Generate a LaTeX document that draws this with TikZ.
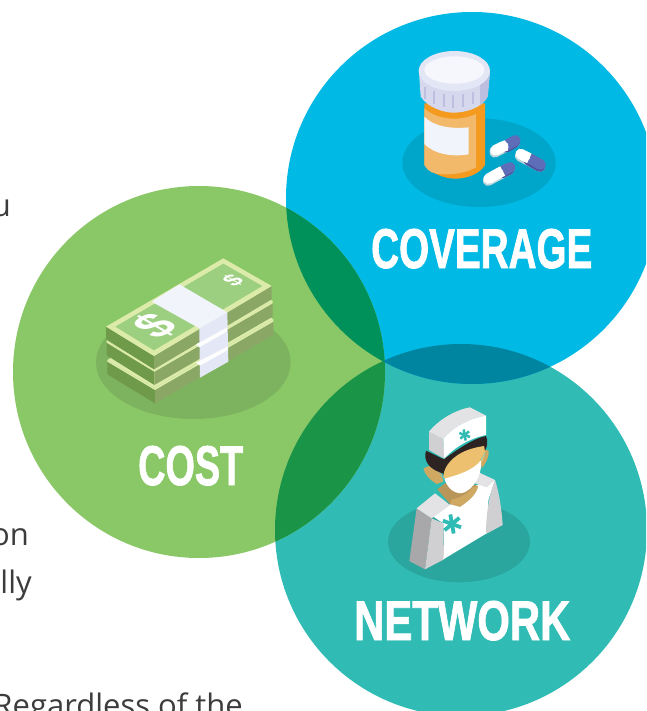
\documentclass[tikz,border=0pt]{standalone}
\usepackage{graphicx}
\usepackage{fontspec}
\setmainfont{Liberation Sans}
\newfontfamily\bodyfont{Open Sans}
\newfontfamily\heavyfont[BoldFeatures={FakeBold=1.6}]{Liberation Sans}
\usetikzlibrary{calc}
\definecolor{cblue}{HTML}{00B9E4}
\definecolor{cgreen}{HTML}{8AC867}
\definecolor{cteal}{HTML}{30BCB4}
\definecolor{gb}{HTML}{00915A}
\definecolor{bt}{HTML}{0085A0}
\definecolor{gt}{HTML}{1A9447}
\definecolor{bodytxt}{HTML}{3C3C3C}
\definecolor{bshadow}{HTML}{00A6CA}
\definecolor{orange1}{HTML}{F39A1F}
\definecolor{orange2}{HTML}{F3B96A}
\definecolor{paper}{HTML}{F2F4FB}
\definecolor{capside}{HTML}{D6D9EE}
\definecolor{capdark}{HTML}{BDBFE0}
\definecolor{captop}{HTML}{E3E6F5}
\definecolor{capin}{HTML}{F6F7FC}
\definecolor{pillblue}{HTML}{5D6DB8}
\definecolor{pilldark}{HTML}{4A55A0}
\definecolor{pillshade}{HTML}{BFD6DA}
\definecolor{gshadow}{HTML}{7DB35F}
\definecolor{billedge}{HTML}{DCEBAA}
\definecolor{billin}{HTML}{9CCF80}
\definecolor{billleft}{HTML}{6F9A49}
\definecolor{billright}{HTML}{8AA766}
\definecolor{bandside}{HTML}{E4E7F5}
\definecolor{tshadow}{HTML}{2AA69F}
\definecolor{nmid}{HTML}{D0D0D2}
\definecolor{ndark}{HTML}{A8A8AA}
\definecolor{nlight}{HTML}{E3E3E5}
\definecolor{nhair}{HTML}{2D2322}
\definecolor{nface}{HTML}{EDC06F}
\definecolor{nneck}{HTML}{B8965A}
\definecolor{nneckb}{HTML}{CFA862}
\tikzset{
  bigword/.style={text=white,font=\heavyfont\fontsize{56}{56}\selectfont\bfseries,inner sep=0pt,anchor=base west},
  bodyline/.style={text=bodytxt,font=\bodyfont\fontsize{31}{31}\selectfont,inner sep=0pt,anchor=base east},
  zoomed/.style={x=0.33333pt,y=-0.33333pt},
  moneysign/.style={text=white,font=\bfseries,inner sep=0pt,transform shape},
  asterline/.style={draw=cteal,line width=#1,line cap=butt}
}
\newcommand{\pillshape}[4]{%
  \draw[line width=10.6pt,line cap=round,pillshade] ($(#1)+(-2,6)$) -- ($(#2)+(-2,6)$);
  \draw[line width=10.6pt,line cap=round,pilldark] ($(#3)+(-2,6)$) -- ($(#2)+(-2,6)$);
  \draw[line width=10.6pt,line cap=round,pillblue] (#3) -- (#2);
  \draw[line width=10.6pt,line cap=round,white] (#1) -- (#4);
  \draw[line width=10.6pt,white] (#4) -- (#3);
}
\newcommand{\billfaces}[6]{%
  \fill[billleft] (#1,#2) -- (#3,#4) -- ++(0,40) -- (#1,#2+38) -- cycle;
  \fill[billright] (#3,#4) -- (#5,#6) -- ++(0,40) -- (#3,#4+40) -- cycle;
}
\newcommand{\asterisk}[4]{%
  \foreach \ang in {20,80,140}{
    \draw[asterline=#4] ($(#1,#2)+({\ang}:#3)$) -- ($(#1,#2)+({\ang+180}:#3)$);
  }
}
\begin{document}
\begin{tikzpicture}[x=1pt,y=-1pt]
\useasboundingbox (0,0) rectangle (646,711);
\clip (0,0) rectangle (646,711);
\fill[white] (0,0) rectangle (646,711);
% body text fragments
\node[bodyline] (t1) at (11,217) {u};
\node[bodyline] (t2) at (29,545) {on};
\node[bodyline] (t3) at (32,593) {lly};
\node[bodyline] (t4) at (243,716) {Regardless of the};
% circles
\fill[cteal] (461,530) circle (186);
\fill[cblue] (472,198) circle (186);
\fill[cgreen] (199,372) circle (186);
\begin{scope}\clip (199,372) circle (186); \fill[gb] (472,198) circle (186); \end{scope}
\begin{scope}\clip (199,372) circle (186); \fill[gt] (461,530) circle (186); \end{scope}
\begin{scope}\clip (472,198) circle (186); \fill[bt] (461,530) circle (186); \end{scope}
% bottle
\begin{scope}[shift={(390,40)},zoomed]
\fill[bshadow] (267,368) ellipse [x radius=230,y radius=133];
\fill[orange1] (103,190) -- (103,375) .. controls (130,405) and (170,416) .. (195,416) .. controls (235,416) and (270,400) .. (285,375) -- (285,190) -- cycle;
\fill[orange2] (103,205) .. controls (140,240) and (210,245) .. (258,222) -- (258,382) .. controls (225,402) and (160,410) .. (125,397) .. controls (115,392) and (108,385) .. (103,375) -- cycle;
\fill[paper] (103,230) .. controls (130,258) and (180,268) .. (236,262) -- (236,343) .. controls (180,352) and (130,340) .. (103,312) -- cycle;
\fill[capside] (87,95) -- (92,170) .. controls (115,205) and (165,218) .. (190,218) .. controls (225,218) and (275,205) .. (293,170) -- (300,95) -- cycle;
\begin{scope}
\clip (270,100) rectangle (305,220);
\fill[capdark] (87,95) -- (92,170) .. controls (115,205) and (165,218) .. (190,218) .. controls (225,218) and (275,205) .. (293,170) -- (300,95) -- cycle;
\end{scope}
\fill[captop] (193,93) ellipse [x radius=107,y radius=60];
\fill[capin] (193,90) ellipse [x radius=90,y radius=41];
\foreach \xx/\yy in {105/140,133/153,161/162,190/166,219/162,248/155}{
  \draw[capdark,line width=1.7pt] (\xx,\yy) -- (\xx,\yy+38);
}
\pillshape{316,331}{376,301}{350,316}{340,319}
\pillshape{296,416}{360,382}{338,393}{325,400}
\pillshape{392,342}{452,374}{418,355}{405,349}
\end{scope}
% money
\begin{scope}[shift={(90,250)},zoomed]
\fill[gshadow] (310,337) ellipse [x radius=292,y radius=170];
\billfaces{52}{335}{195}{420}{550}{215}
\fill[billedge] (52,330) -- (405,125) -- (550,208) -- (195,414) -- cycle;
\fill[billedge] (52,335) -- (195,420) -- (550,215) -- (550,208) -- (195,414) -- (52,330) -- cycle;
\billfaces{50}{278}{193}{365}{548}{160}
\fill[billedge] (50,272) -- (403,68) -- (548,153) -- (193,358) -- (50,272) -- cycle;
\fill[billedge] (50,278) -- (193,365) -- (548,160) -- (548,153) -- (193,358) -- (50,272) -- cycle;
\billfaces{48}{230}{192}{318}{545}{108}
\fill[billedge] (48,230) -- (400,25) -- (545,108) -- (192,318) -- cycle;
\fill[billin] (76,230) -- (400,41) -- (517,108) -- (192,301) -- cycle;
% band
\fill[bandside] (328,235) -- (412,187) -- (415,335) -- (330,383) -- cycle;
\fill[white!92!bandside] (318,283) -- (410,233) -- (412,244) -- (328,292) -- cycle;
\fill[white!92!bandside] (318,338) -- (412,290) -- (414,300) -- (330,347) -- cycle;
\fill[paper] (185,155) -- (268,103) -- (412,187) -- (328,235) -- cycle;
\node[moneysign,cm={0.9,0.52,-0.9,0.52,(195,229)}] (d1) at (0,0) {\fontsize{46}{46}\selectfont\$};
\node[moneysign,cm={0.9,0.52,-0.9,0.52,(429,90)}] (d2) at (0,0) {\fontsize{22}{22}\selectfont\$};
\end{scope}
% nurse
\begin{scope}[shift={(380,400)},zoomed]
\fill[tshadow] (237,425) ellipse [x radius=213,y radius=122];
\fill[ndark] (110,325) -- (88,483) -- (135,508) -- (155,355) -- cycle;
\fill[nmid] (155,355) -- (135,508) -- (192,478) -- (190,370) -- cycle;
\fill[white] (160,350) -- (290,255) -- (345,240) -- (325,300) -- (320,400) -- (190,478) .. controls (195,430) and (190,390) .. (190,370) -- cycle;
\fill[nmid] (345,240) .. controls (358,280) and (365,330) .. (368,375) -- (318,402) .. controls (318,350) and (325,290) .. (345,240) -- cycle;
\fill[nlight] (110,325) -- (165,280) -- (210,315) -- (155,355) -- cycle;
\fill[nlight] (298,218) -- (345,240) -- (320,262) -- (285,250) -- cycle;
% neck
\fill[nneck] (172,268) -- (210,312) -- (240,320) .. controls (270,300) and (290,280) .. (294,258) -- (270,250) -- (195,250) -- cycle;
\fill[nneckb] (210,312) -- (240,320) .. controls (270,300) and (290,280) .. (294,258) -- (278,262) .. controls (260,285) and (235,295) .. (215,298) -- cycle;
\fill[nneckb] (130,205) -- (148,198) -- (185,222) -- (190,245) -- (170,252) .. controls (150,240) and (135,225) .. (130,205) -- cycle;
\fill[nneckb] (300,170) -- (316,150) -- (326,152) .. controls (328,170) and (318,190) .. (305,205) -- cycle;
% hair
\fill[nhair] (138,152) -- (192,178) -- (192,222) -- (168,212) .. controls (145,200) and (130,180) .. (138,152) -- cycle;
\fill[nhair] (188,180) .. controls (230,150) and (280,115) .. (318,108) .. controls (324,120) and (322,140) .. (316,150) .. controls (270,160) and (220,175) .. (190,225) -- cycle;
% face
\fill[nface] (190,232) .. controls (190,195) and (225,165) .. (258,152) .. controls (280,143) and (300,140) .. (312,138) .. controls (318,160) and (312,175) .. (305,188) -- (240,260) -- cycle;
% mask
\fill[white] (193,236) .. controls (235,225) and (280,210) .. (302,182) .. controls (308,210) and (290,255) .. (262,272) .. controls (240,290) and (205,275) .. (193,236) -- cycle;
\draw[cteal!70!white,line width=.6pt] (193,236) -- (180,225);
\draw[cteal!70!white,line width=.6pt] (302,182) -- (316,158);
% cap
\fill[nmid] (147,95) -- (190,117) -- (193,176) -- (147,150) -- cycle;
\fill[nlight] (147,95) .. controls (175,60) and (225,30) .. (270,22) -- (318,47) .. controls (270,55) and (220,80) .. (190,117) -- cycle;
\fill[white] (190,117) .. controls (220,80) and (270,55) .. (318,47) -- (318,105) .. controls (270,115) and (225,140) .. (193,176) -- cycle;
\begin{scope}[shift={(254,105)},x=0.33333pt,y=-0.33333pt]
\asterisk{0}{0}{17}{2.5pt}
\end{scope}
\begin{scope}[shift={(216,372)},x=0.33333pt,y=-0.33333pt]
\asterisk{0}{0}{29}{3.8pt}
\end{scope}
\end{scope}
% labels
\node[bigword] (coverage) at (371,268) {\scalebox{.69}[1]{COVERAGE}};
\node[bigword] (cost) at (138,485) {\scalebox{.675}[1]{COST}};
\node[bigword] (network) at (354,640) {\scalebox{.747}[1]{NETWORK}};
\end{tikzpicture}
\end{document}
